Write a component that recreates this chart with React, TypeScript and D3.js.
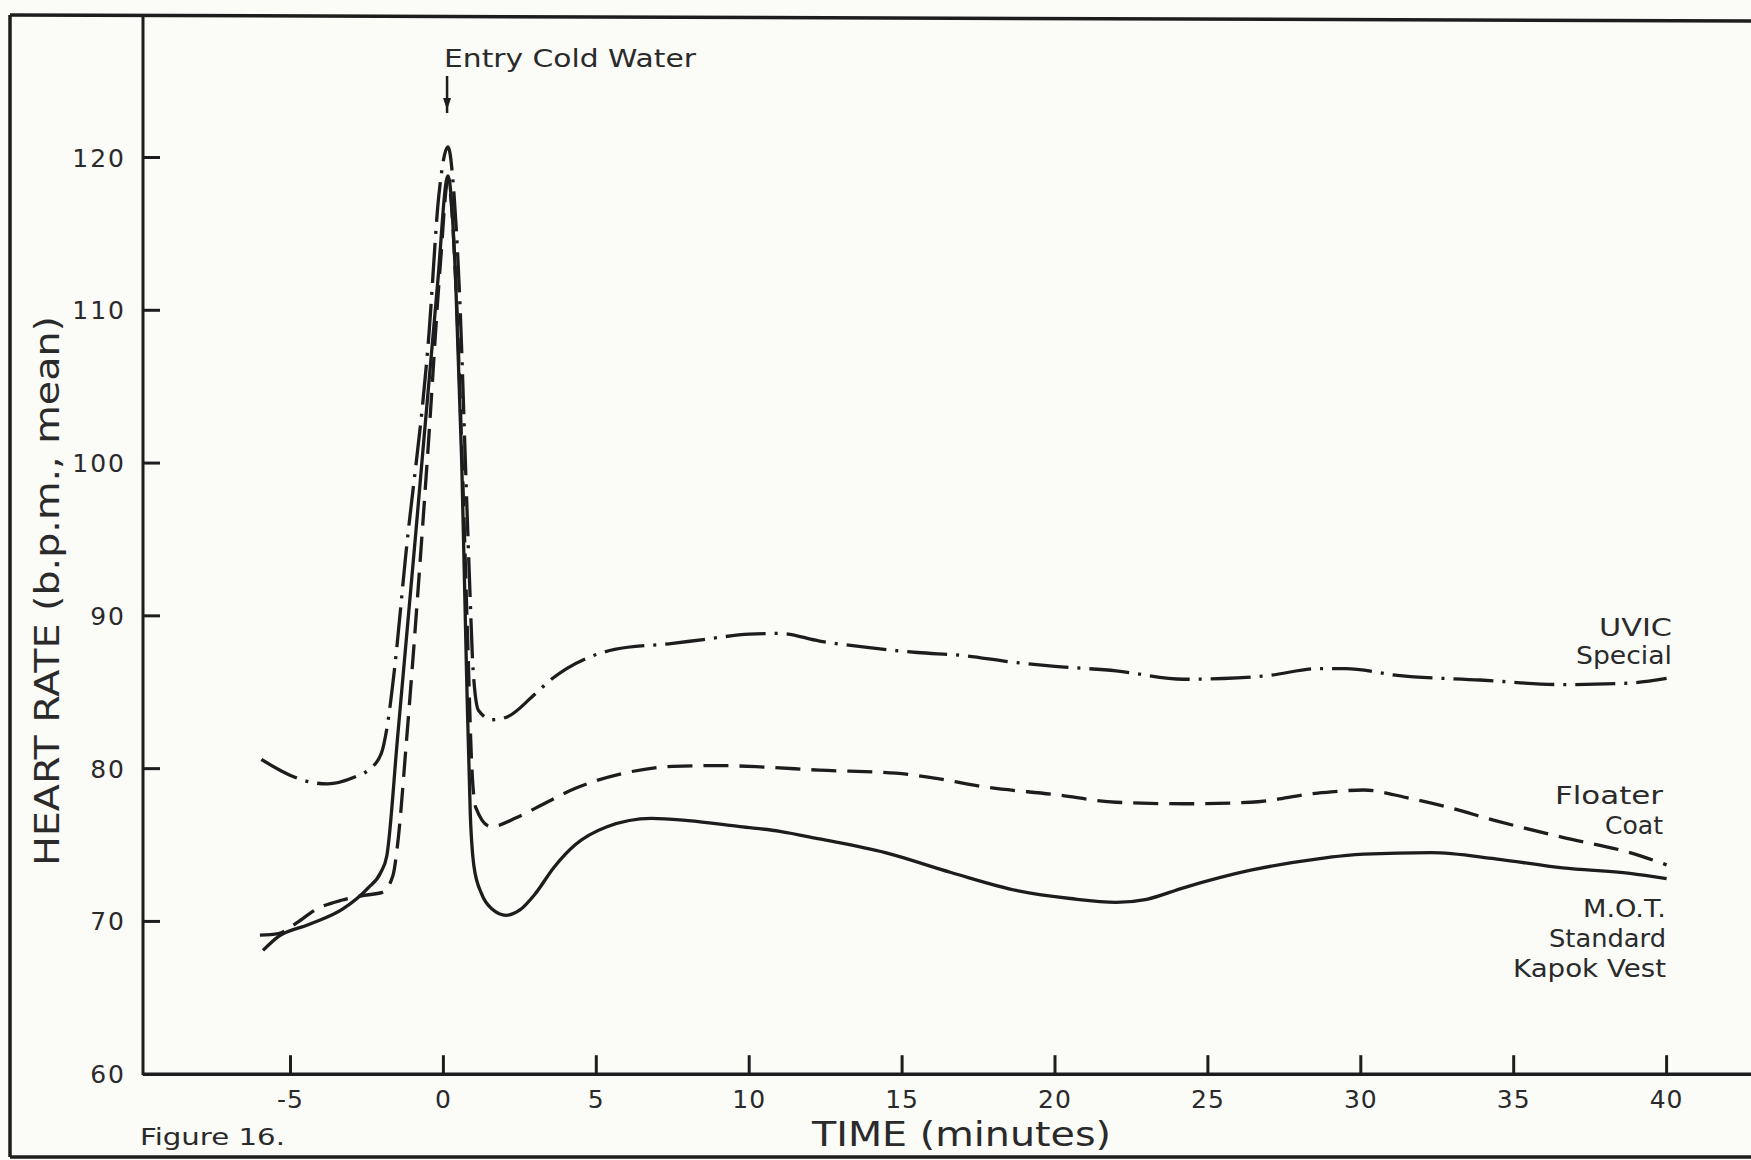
import React from 'react';
import * as d3 from 'd3';

// ---- data ----
const xTicks = [-5, 0, 5, 10, 15, 20, 25, 30, 35, 40];
const yTicks = [60, 70, 80, 90, 100, 110, 120];

// UVIC Special (dash-dot)
const uvicTime = [-5.95, -5.3, -4.6, -3.8, -2.9, -2.46, -2.03, -1.86, -1.6, -1.24, -0.47, -0.15, 0.15, 0.35, 0.55, 0.72, 0.86, 0.97, 1.15, 1.6, 2.1, 2.9, 3.5, 4.9, 5.6, 7.5, 8.5, 10.0, 11.0, 12.3, 14.0, 15.5, 17.0, 18.5, 20.0, 22.0, 24.2, 25.5, 27.0, 28.6, 29.5, 31.2, 33.9, 36.6, 38.8, 40.0];
const uvicRate = [80.6, 79.85, 79.25, 79.0, 79.45, 79.9, 81.0, 82.5, 86.5, 93.8, 108.5, 117.5, 120.7, 117.5, 110.0, 100.0, 92.0, 86.5, 83.8, 83.2, 83.4, 84.7, 85.8, 87.4, 87.8, 88.2, 88.45, 88.8, 88.85, 88.35, 87.9, 87.6, 87.4, 87.0, 86.7, 86.4, 85.85, 85.9, 86.1, 86.55, 86.55, 86.1, 85.8, 85.5, 85.6, 85.9];

// Floater Coat (dashed)
const floaterTime = [-6.0, -5.4, -4.8, -4.15, -3.3, -2.6, -2.0, -1.65, -1.5, -1.2, -0.5, -0.1, 0.15, 0.4, 0.6, 0.8, 0.92, 1.05, 1.55, 2.4, 3.0, 4.3, 5.9, 7.5, 9.0, 10.5, 12.3, 14.8, 16.0, 17.7, 20.0, 22.0, 24.2, 26.4, 28.6, 30.1, 31.5, 32.8, 34.4, 36.6, 38.8, 40.0];
const floaterRate = [69.1, 69.2, 69.9, 70.8, 71.4, 71.7, 71.9, 73.0, 75.0, 82.0, 101.0, 113.0, 118.5, 112.0, 101.0, 88.0, 80.5, 77.5, 76.2, 76.8, 77.4, 78.7, 79.7, 80.15, 80.2, 80.1, 79.9, 79.7, 79.4, 78.8, 78.3, 77.8, 77.7, 77.8, 78.4, 78.6, 78.1, 77.5, 76.6, 75.5, 74.5, 73.7];

// M.O.T. Standard Kapok Vest (solid)
const motTime = [-5.9, -5.4, -4.4, -3.3, -2.46, -2.05, -1.85, -1.5, -0.9, -0.2, 0.15, 0.4, 0.6, 0.76, 0.88, 1.0, 1.25, 1.6, 2.05, 2.5, 3.0, 3.6, 4.3, 5.35, 6.8, 8.0, 9.7, 11.0, 12.3, 14.45, 16.6, 18.8, 20.5, 22.0, 23.0, 24.2, 26.4, 28.6, 30.1, 32.3, 34.4, 36.6, 38.8, 40.0];
const motRate = [68.1, 69.0, 69.8, 70.8, 72.2, 73.2, 74.3, 82.0, 95.5, 111.5, 118.8, 112.0, 100.0, 86.0, 77.0, 73.6, 71.8, 70.8, 70.4, 70.75, 71.8, 73.5, 75.0, 76.2, 76.75, 76.6, 76.2, 75.9, 75.4, 74.5, 73.2, 72.0, 71.5, 71.25, 71.45, 72.2, 73.35, 74.1, 74.4, 74.5, 74.1, 73.5, 73.15, 72.8];

const seriesLabels = [
  { lines: ['UVIC', 'Special'], widths: [73, 96] },
  { lines: ['Floater', 'Coat'], widths: [108, 58] },
  { lines: ['M.O.T.', 'Standard', 'Kapok Vest'], widths: [83, 117, 153] },
];

const entryTime = 0.12;

const W = 1751;
const H = 1160;
const INK = '#1d1d1d';
const FONT = '"DejaVu Sans", sans-serif';

export default function App() {
  const x = d3.scaleLinear().domain([-5, 40]).range([290.5, 1666.6]);
  const y = d3.scaleLinear().domain([60, 120]).range([1074.2, 157.5]);
  const line = d3
    .line<[number, number]>()
    .x((d) => x(d[0]))
    .y((d) => y(d[1]))
    .curve(d3.curveMonotoneX);

  const zip = (t: number[], v: number[]) => t.map((tt, i) => [tt, v[i]] as [number, number]);

  const axisX = 143;
  const axisY = y(60);

  const labelBlocks = [
    { right: 1672, baselines: [636, 664] },
    { right: 1663, baselines: [804, 834] },
    { right: 1666, baselines: [917, 947, 977] },
  ];

  const ax = x(entryTime);

  return (
    <svg
      width={W}
      height={H}
      style={{ position: 'absolute', left: 0, top: 0, background: '#fbfbf8' }}
    >
      <rect x={0} y={0} width={W} height={H} fill="#fbfbf8" />
      {/* outer frame */}
      <line x1={10} y1={15} x2={W} y2={21} stroke={INK} strokeWidth={3.5} />
      <line x1={10} y1={15} x2={10} y2={1157} stroke={INK} strokeWidth={3.5} />
      <line x1={10} y1={1157} x2={W} y2={1157} stroke={INK} strokeWidth={3.5} />

      {/* axes */}
      <line x1={axisX} y1={17} x2={axisX} y2={axisY + 1} stroke={INK} strokeWidth={3} />
      <line x1={axisX} y1={axisY} x2={W} y2={axisY} stroke={INK} strokeWidth={3.5} />

      {yTicks.map((t) => (
        <g key={'y' + t}>
          {t !== 60 && (
            <line x1={axisX} x2={axisX + 17} y1={y(t)} y2={y(t)} stroke={INK} strokeWidth={3} />
          )}
          <text
            x={126}
            y={y(t)}
            dy="0.36em"
            textAnchor="end"
            fontFamily={FONT}
            fontSize={25}
            letterSpacing={2}
            fill="#2a2a2a"
          >
            {t}
          </text>
        </g>
      ))}

      {xTicks.map((t) => (
        <g key={'x' + t}>
          <line x1={x(t)} x2={x(t)} y1={axisY} y2={axisY - 19} stroke={INK} strokeWidth={3} />
          <text
            x={x(t)}
            y={1108}
            textAnchor="middle"
            fontFamily={FONT}
            fontSize={25}
            letterSpacing={1}
            fill="#2a2a2a"
          >
            {t}
          </text>
        </g>
      ))}

      {/* curves */}
      <path
        d={line(zip(uvicTime, uvicRate)) || ''}
        fill="none"
        stroke={INK}
        strokeWidth={3.3}
        strokeDasharray="40 9 3 9"
      />
      <path
        d={line(zip(floaterTime, floaterRate)) || ''}
        fill="none"
        stroke={INK}
        strokeWidth={3.3}
        strokeDasharray="25 11"
      />
      <path
        d={line(zip(motTime, motRate)) || ''}
        fill="none"
        stroke={INK}
        strokeWidth={3.3}
      />

      {/* entry annotation */}
      <text
        x={444}
        y={67}
        fontFamily={FONT}
        fontSize={25}
        textLength={252}
        lengthAdjust="spacingAndGlyphs"
        fill="#2a2a2a"
      >
        Entry Cold Water
      </text>
      <line x1={ax} x2={ax} y1={76} y2={113} stroke={INK} strokeWidth={2.5} />
      <path d={`M${ax - 4},${98} L${ax + 4},${98} L${ax},${110} Z`} fill={INK} />

      {/* series labels */}
      {seriesLabels.map((s, i) =>
        s.lines.map((ln, j) => (
          <text
            key={'l' + i + j}
            x={labelBlocks[i].right}
            y={labelBlocks[i].baselines[j]}
            textAnchor="end"
            fontFamily={FONT}
            fontSize={24}
            textLength={s.widths[j]}
            lengthAdjust="spacingAndGlyphs"
            fill="#2a2a2a"
          >
            {ln}
          </text>
        ))
      )}

      {/* axis titles */}
      <text
        x={812}
        y={1146}
        fontFamily={FONT}
        fontSize={33}
        textLength={299}
        lengthAdjust="spacingAndGlyphs"
        fill="#2a2a2a"
      >
        TIME (minutes)
      </text>
      <text
        x={140}
        y={1145}
        fontFamily={FONT}
        fontSize={23}
        textLength={145}
        lengthAdjust="spacingAndGlyphs"
        fill="#2a2a2a"
      >
        Figure 16.
      </text>
      <text
        transform="translate(59,591) rotate(-90)"
        textAnchor="middle"
        fontFamily={FONT}
        fontSize={33}
        textLength={550}
        lengthAdjust="spacingAndGlyphs"
        fill="#2a2a2a"
      >
        HEART RATE (b.p.m., mean)
      </text>
    </svg>
  );
}
